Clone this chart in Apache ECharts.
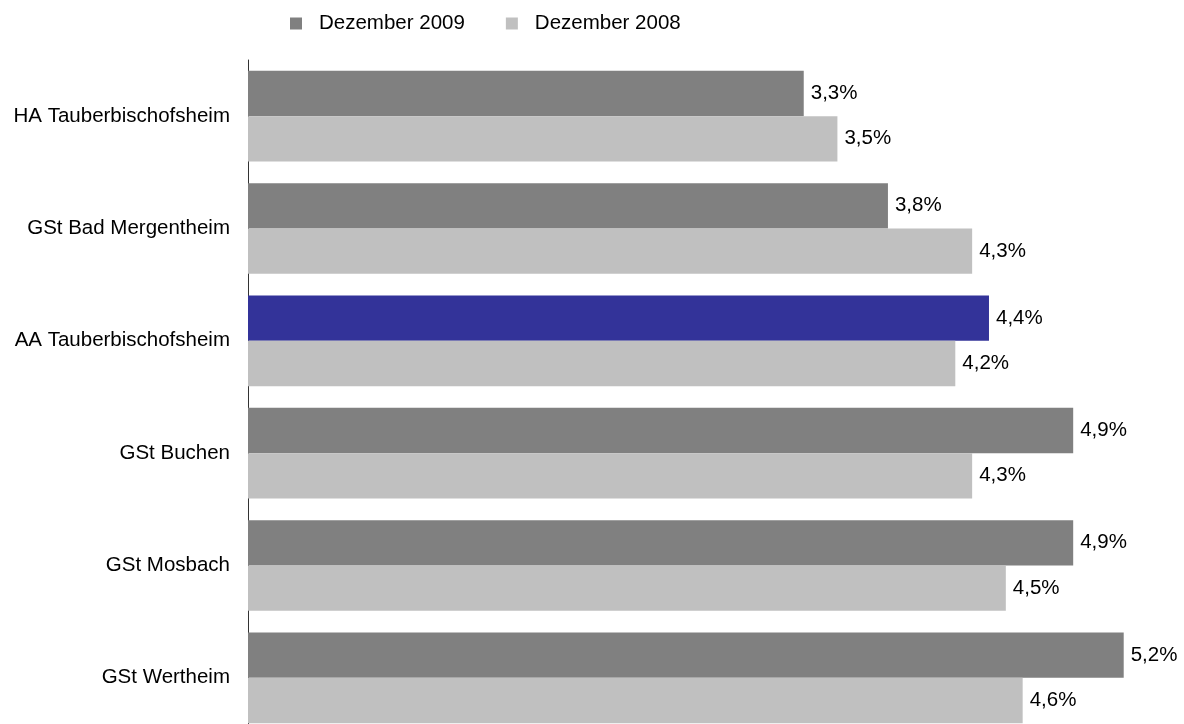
<!DOCTYPE html>
<html>
<head>
<meta charset="utf-8">
<script src="https://cdn.jsdelivr.net/npm/echarts@6/dist/echarts.min.js"></script>
<style>
html,body{margin:0;padding:0;background:#fff;overflow:hidden;}
#c{width:1184px;height:734px;}
</style>
</head>
<body>
<div id="c"></div>
<script>
const categories = ["HA Tauberbischofsheim","GSt Bad Mergentheim","AA Tauberbischofsheim","GSt Buchen","GSt Mosbach","GSt Wertheim"];
const seriesNames = ["Dezember 2009","Dezember 2008"];
const values2009 = [3.3,3.8,4.4,4.9,4.9,5.2];
const values2008 = [3.5,4.3,4.2,4.3,4.5,4.6];
const highlightIndex = 2;

const FONT = '"Liberation Sans", Arial, sans-serif';
const FS = 20.5;

const chart = echarts.init(document.getElementById('c'), null, {renderer:'canvas'});
const labelFmt = p => p.value.toFixed(1).replace('.', ',') + '%';
const lbl = {show:true, position:'right', distance:7, color:'#000', fontFamily:FONT, fontSize:FS, formatter:labelFmt};

chart.setOption({
  animation:false,
  backgroundColor:'#fff',
  legend:{
    left:285, top:8, itemWidth:12, itemHeight:12, itemGap:41, icon:'rect',
    textStyle:{fontFamily:FONT, fontSize:FS, color:'#000', padding:[0,0,0,12]},
    data:seriesNames
  },
  grid:{left:248, right:0, top:60, bottom:0, containLabel:false},
  xAxis:{type:'value', min:0, max:5.558, show:false},
  yAxis:{
    type:'category', inverse:true, data:categories,
    axisLine:{show:true, lineStyle:{color:'#333', width:1}},
    axisTick:{show:false},
    axisLabel:{margin:18, color:'#000', fontFamily:FONT, fontSize:FS}
  },
  series:[
    {name:seriesNames[0], type:'bar', barGap:0, barCategoryGap:'19.3%',
     itemStyle:{color:'#808080'}, label:lbl,
     data:values2009.map((v,i)=> i===highlightIndex ? {value:v, itemStyle:{color:'#333399'}} : v)},
    {name:seriesNames[1], type:'bar', barGap:0, barCategoryGap:'19.3%',
     itemStyle:{color:'#c0c0c0'}, label:lbl, data:values2008}
  ]
});
</script>
</body>
</html>
